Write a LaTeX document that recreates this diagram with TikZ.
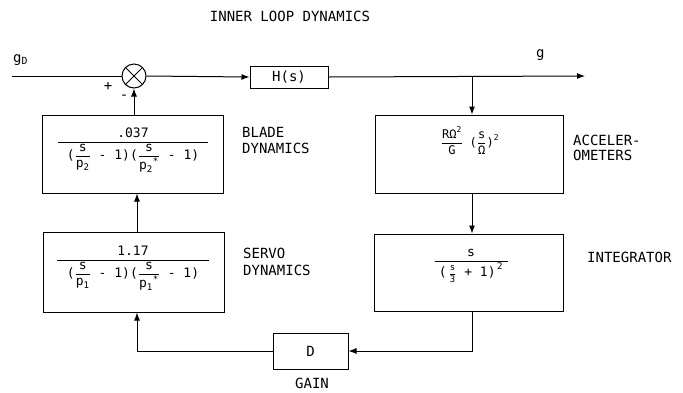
\documentclass[tikz,border=0pt]{standalone}
\usepackage{fontspec}
\usepackage{amsmath}
\setmainfont{DejaVu Sans Mono}
\usetikzlibrary{arrows.meta}
\newcommand{\tx}[1]{\text{#1}}
\begin{document}
\begin{tikzpicture}[x=1pt,y=-1pt,
  blk/.style={draw,line width=1pt,inner sep=0pt},
  txt/.style={font=\fontsize{14}{16}\selectfont,inner sep=0pt},
  lbl/.style={txt,anchor=base west},
  cnt/.style={font=\fontsize{13}{15}\selectfont,inner sep=0pt},
  wire/.style={line width=1pt},
  arr/.style={wire,-{Latex[length=8pt,width=6pt]}}]
\useasboundingbox (0,0) rectangle (683,392);

% title
\node[txt,anchor=base] (title) at (290,21) {INNER LOOP DYNAMICS};

% blocks
\node[blk,circle,minimum size=24pt] (sum) at (134,76) {};
\draw[wire] (sum.north west) -- (sum.south east) (sum.north east) -- (sum.south west);
\node[blk,minimum width=78pt,minimum height=22pt] (hs) at (289,77) {};
\node[cnt,font=\fontsize{14}{16}\selectfont] (hstext) at (289,77) {H(s)};
\node[blk,minimum width=181pt,minimum height=78pt] (blade) at (132.5,154) {};
\node[blk,minimum width=181pt,minimum height=80pt] (servo) at (133.5,272) {};
\node[blk,minimum width=188pt,minimum height=78pt] (accel) at (469,154) {};
\node[blk,minimum width=189pt,minimum height=77pt] (integ) at (468.5,272.5) {};
\node[blk,minimum width=75pt,minimum height=36pt] (gain) at (310.5,351) {};
\node[txt] (gaintext) at (310.5,351) {D};

% block contents
\node[cnt] (bladetext) at (133,150) {$\dfrac{\makebox[150pt]{.037}}{\tx{(}\dfrac{\tx{s}}{\tx{p}_{\tx{2}}}\tx{ - 1)(}\dfrac{\tx{s}}{{\tx{p}_{\tx{2}}}^{\tx{*}}}\tx{ - 1)}}$};
\node[cnt] (servotext) at (133,268) {$\dfrac{\makebox[152pt]{1.17}}{\tx{(}\dfrac{\tx{s}}{\tx{p}_{\tx{1}}}\tx{ - 1)(}\dfrac{\tx{s}}{{\tx{p}_{\tx{1}}}^{\tx{*}}}\tx{ - 1)}}$};
\node[cnt,font=\fontsize{12}{14}\selectfont] (acceltext) at (470,141) {$\dfrac{\tx{RΩ}^{\tx{2}}}{\tx{G}}\;\;\tx{(}\dfrac{\tx{s}}{\tx{Ω}}\tx{)}^{\tx{2}}$};
\node[cnt] (integtext) at (471,266) {$\dfrac{\makebox[73pt]{s}}{\tx{(}\,\text{\fontsize{9}{10}\selectfont$\dfrac{\tx{s}}{\tx{3}}$}\tx{ + 1)}^{\,\tx{2}}}$};

% labels
\node[lbl] (gd) at (13,62) {g$_{\tx{D}}$};
\node[lbl] (g) at (536,57) {g};
\node[txt] (plus) at (108,86) {+};
\node[txt] (minus) at (124,97) {-};
\node[lbl] (bl1) at (242,137) {BLADE};
\node[lbl] (bl2) at (242,153) {DYNAMICS};
\node[lbl] (sv1) at (243,258) {SERVO};
\node[lbl] (sv2) at (243,275) {DYNAMICS};
\node[lbl] (ac1) at (573,145) {ACCELER-};
\node[lbl] (ac2) at (573,160) {OMETERS};
\node[lbl] (in1) at (587,262) {INTEGRATOR};
\node[txt,anchor=base] (gl) at (312,388) {GAIN};

% connectors
\coordinate (gin) at (12,76);
\coordinate (gout) at (585,76);
\coordinate (br) at (472,76);
\coordinate (rx) at (472,0);
\coordinate (lx) at (137,0);
\draw[wire] (gin) -- (sum.west);
\draw[arr] (sum.east) -- (hs.west);
\draw[arr] (hs.east) -- (gout);
\draw[arr] (br) -- (rx |- accel.north);
\draw[arr] (rx |- accel.south) -- (rx |- integ.north);
\draw[arr] (rx |- integ.south) |- (gain.east);
\draw[arr] (gain.west) -| (lx |- servo.south);
\draw[arr] (lx |- servo.north) -- (lx |- blade.south);
\draw[arr] (sum.south |- blade.north) -- (sum.south);
\end{tikzpicture}
\end{document}
